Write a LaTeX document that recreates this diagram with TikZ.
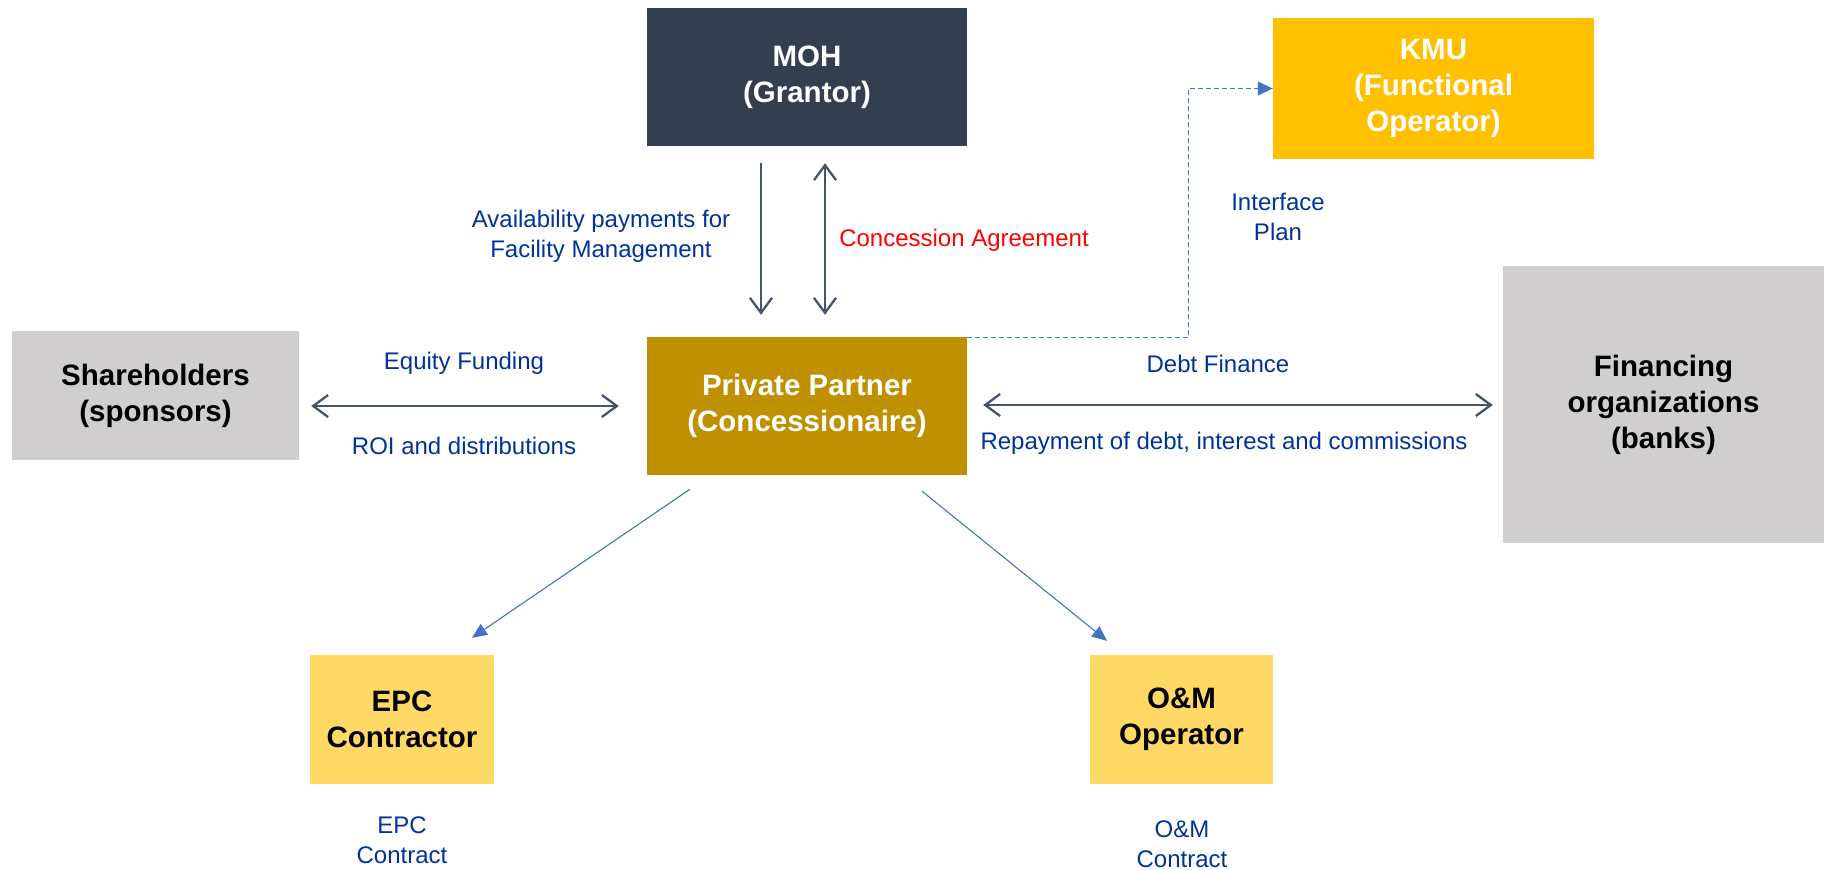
\documentclass[tikz,border=0pt]{standalone}
\usepackage{fontspec}
\setmainfont{Liberation Sans}
\usetikzlibrary{arrows.meta,calc}
\definecolor{mohc}{HTML}{333F50}
\definecolor{kmuc}{HTML}{FFC000}
\definecolor{ppc}{HTML}{BF9000}
\definecolor{grayc}{HTML}{D0CECE}
\definecolor{yelc}{HTML}{FFD966}
\definecolor{lblue}{RGB}{0,51,153}
\definecolor{arrg}{HTML}{44546A}
\definecolor{lineb}{HTML}{4472C4}
\tikzset{
  box/.style={draw=none, inner sep=0pt, align=center, font=\fontsize{29.5}{36}\selectfont\bfseries},
  lbl/.style={inner sep=0pt, align=center, text=lblue, font=\fontsize{24}{30}\selectfont},
  garrow/.style={draw=arrg, line width=2.3pt},
  gtip/.style={-{Straight Barb[length=15pt,width=22pt,line width=2.3pt]}},
  gtips/.style={{Straight Barb[length=15pt,width=22pt,line width=2.3pt]}-{Straight Barb[length=15pt,width=22pt,line width=2.3pt]}},
  barrow/.style={draw=lineb, line width=1.1pt, -{Triangle[length=15pt,width=13pt]}},
  darrow/.style={draw=lineb, line width=1.3pt, dash pattern=on 5pt off 3pt, -{Triangle[length=15pt,width=14pt]}}
}
\begin{document}
\begin{tikzpicture}[x=1pt,y=-1pt]
\useasboundingbox (0,0) rectangle (1824,870);
% boxes
\node[box, fill=mohc, text=white, minimum width=320pt, minimum height=138pt] (moh) at (807,77) {MOH\\(Grantor)};
\node[box, fill=kmuc, text=white, minimum width=321pt, minimum height=141pt] (kmu) at (1433.5,88.5) {KMU\\(Functional\\Operator)};
\node[box, fill=ppc, text=white, minimum width=320pt, minimum height=138pt] (pp) at (807,406) {Private Partner\\(Concessionaire)};
\node[box, fill=grayc, text=black, minimum width=287pt, minimum height=129pt] (sh) at (155.5,395.5) {Shareholders\\(sponsors)};
\node[box, fill=grayc, text=black, minimum width=321pt, minimum height=277pt] (fin) at (1663.5,404.5) {Financing\\organizations\\(banks)};
\node[box, fill=yelc, text=black, minimum width=184pt, minimum height=129pt] (epc) at (402,719.5) {EPC\\Contractor};
\node[box, fill=yelc, text=black, minimum width=183pt, minimum height=129pt] (om) at (1181.5,719.5) {O\&M\\Operator};
% labels
\node[lbl] (l1) at (601,236) {Availability payments for\\Facility Management};
\node[lbl, text=red] (l2) at (964,240) {Concession Agreement};
\node[lbl] (l3) at (1278,216.5) {Interface\\Plan};
\node[lbl] (l4) at (464,363) {Equity Funding};
\node[lbl] (l5) at (464,446) {ROI and distributions};
\node[lbl] (l6) at (1218,364) {Debt Finance};
\node[lbl] (l7) at (1224,443) {Repayment of debt, interest and commissions};
\node[lbl] (l8) at (402,840) {EPC\\Contract};
\node[lbl] (l9) at (1182,844.5) {O\&M\\Contract};
% connectors
\coordinate (shr) at ([yshift=-10.5pt]sh.east);
\coordinate (ppr) at ([yshift=1pt]pp.east);
\draw[garrow, gtip, shorten <=17pt, shorten >=22pt] ([xshift=-46pt]moh.south) -- ([xshift=-46pt]pp.north);
\draw[garrow, gtips, shorten <=17pt, shorten >=22pt] ([xshift=18pt]moh.south) -- ([xshift=18pt]pp.north);
\draw[garrow, gtips, shorten <=12pt, shorten >=28pt] (shr) -- (shr -| pp.west);
\draw[garrow, gtips, shorten <=16pt, shorten >=10pt] (ppr) -- (ppr -| fin.west);
\draw[darrow] ([yshift=-1pt]pp.north east) -- ++(221,0) |- (kmu.west);
\draw[barrow] ([xshift=-117pt,yshift=-14pt]pp.south) -- ([xshift=70pt,yshift=17pt]epc.north);
\draw[barrow] ([xshift=115pt,yshift=-16pt]pp.south) -- ([xshift=-74.5pt,yshift=14pt]om.north);
\end{tikzpicture}
\end{document}
